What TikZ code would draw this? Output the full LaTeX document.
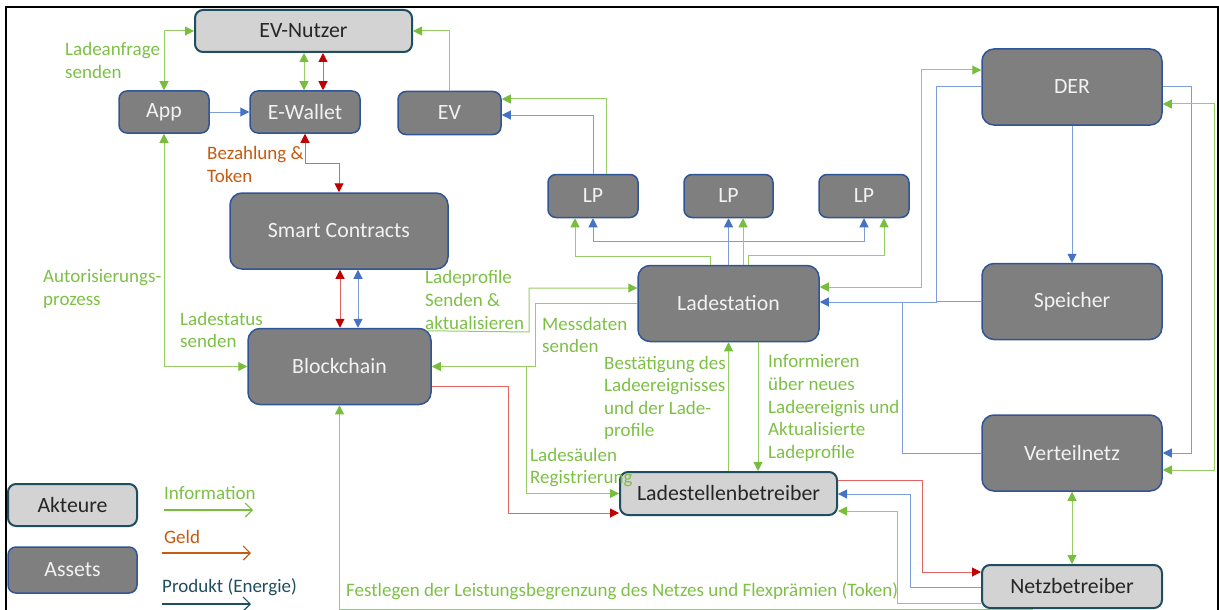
\documentclass[tikz,border=0pt]{standalone}
\usepackage{fontspec}
\setmainfont{Carlito}
\usetikzlibrary{arrows.meta,calc}

\definecolor{glin}{RGB}{150,205,100}
\definecolor{gtip}{RGB}{120,190,60}
\definecolor{gtext}{RGB}{125,192,70}
\definecolor{blin}{RGB}{125,158,218}
\definecolor{btip}{RGB}{68,114,196}
\definecolor{rlin}{RGB}{228,100,100}
\definecolor{rtip}{RGB}{192,0,0}
\definecolor{otext}{RGB}{197,90,17}
\definecolor{teal}{RGB}{31,78,96}
\definecolor{assetfill}{RGB}{127,127,127}
\definecolor{assetborder}{RGB}{47,85,151}
\definecolor{actorfill}{RGB}{211,211,211}
\definecolor{actorborder}{RGB}{30,78,96}

\newcommand{\boxfont}{\fontsize{21.8}{26}\selectfont}
\newcommand{\lblfont}{\fontsize{19}{22.6}\selectfont}

\begin{document}
\begin{tikzpicture}[x=1pt,y=-1pt,
  asset/.style={draw=assetborder, fill=assetfill, line width=1.5pt,
    rounded corners=10pt, text=white!95!black, font=\boxfont, inner sep=0pt},
  actor/.style={draw=actorborder, fill=actorfill, line width=2pt,
    rounded corners=8pt, text=black!85, font=\boxfont, inner sep=0pt},
  gi/.style={draw=glin, line width=1pt, >={Triangle[length=9pt,width=9pt,color=gtip]}},
  bi/.style={draw=blin, line width=1pt, >={Triangle[length=9pt,width=9pt,color=btip]}},
  ri/.style={draw=rlin, line width=1pt, >={Triangle[length=9pt,width=9pt,color=rtip]}},
  lbl/.style={font=\lblfont, text=gtext, align=left, anchor=west, inner sep=0pt},
  legarrow/.style={line width=1.2pt, -{Straight Barb[length=7pt,width=14pt]}}
]
\useasboundingbox (0,0) rectangle (1219,610);

% outer frame
\draw[line width=2.5pt] (6,614) -- (6,7) -- (1218,7) -- (1218,614);

% actors
\node[actor, minimum width=217pt, minimum height=42pt] (nutzer) at (303.5,31) {EV-Nutzer};
\node[actor, minimum width=217pt, minimum height=43pt] (lsb) at (728.5,493.5) {Ladestellenbetreiber};
\node[actor, minimum width=180pt, minimum height=43pt] (netz) at (1072,586.5) {Netzbetreiber};

% assets
\node[asset, rounded corners=8pt, minimum width=90pt, minimum height=42pt] (app) at (164,112) {App};
\node[asset, rounded corners=8pt, minimum width=110pt, minimum height=42pt] (wallet) at (305,112) {E-Wallet};
\node[asset, rounded corners=8pt, minimum width=103pt, minimum height=43pt] (ev) at (449.5,113) {EV};
\node[asset, rounded corners=8pt, minimum width=90pt, minimum height=43pt] (lp1) at (593,196) {LP};
\node[asset, rounded corners=8pt, minimum width=89pt, minimum height=43pt] (lp2) at (728.5,196) {LP};
\node[asset, rounded corners=8pt, minimum width=90pt, minimum height=43pt] (lp3) at (864,196) {LP};
\node[asset, rounded corners=12pt, minimum width=218pt, minimum height=76pt] (smart) at (339,231) {Smart Contracts};
\node[asset, rounded corners=12pt, minimum width=183pt, minimum height=76pt] (chain) at (339.5,366.5) {Blockchain};
\node[asset, rounded corners=12pt, minimum width=181pt, minimum height=76pt] (station) at (728.5,303.5) {Ladestation};
\node[asset, rounded corners=12pt, minimum width=180pt, minimum height=76pt] (der) at (1072,87) {DER};
\node[asset, rounded corners=12pt, minimum width=180pt, minimum height=76pt] (speicher) at (1072,301.5) {Speicher};
\node[asset, rounded corners=12pt, minimum width=180pt, minimum height=76pt] (verteil) at (1072,453) {Verteilnetz};

% legend boxes
\node[actor, minimum width=129pt, minimum height=42pt] (akteure) at (72.5,505) {Akteure};
\node[asset, rounded corners=8pt, minimum width=129pt, minimum height=46pt] (assets) at (72.5,570) {Assets};

% user side
\draw[gi,<->] (app.north) |- (nutzer.west);
\draw[bi,->] (app) -- (wallet);
\draw[gi,<->] (304,0 |- wallet.north) -- (304,0 |- nutzer.south);
\draw[ri,<->] (323,0 |- wallet.north) -- (323,0 |- nutzer.south);
\draw[ri,<->] (wallet.south) -- (wallet.south |- 0,163) -| (smart.north);
\draw[gi,->] (ev.north) |- (nutzer.east);
\draw[gi,->] (606,0 |- lp1.north) |- (ev.east |- 0,99);
\draw[bi,->] (lp1.north) |- (ev.east |- 0,115);

% charging station to charging points
\draw[gi,->] (710,0 |- station.north) -- (710,256) -| (575,0 |- lp1.south);
\draw[bi,->] (station.north) -- (lp2.south);
\draw[bi,->] (728.5,241) -| (lp1.south);
\draw[bi,->] (728.5,241) -| (lp3.south);
\draw[gi,->] (743,0 |- station.north) -- (743,0 |- lp2.south);
\draw[gi,->] (748,0 |- station.north) -- (748,255) -| (884,0 |- lp3.south);

% DER, storage, grid
\draw[gi,<->] (station.east |- 0,287) -- (921,287) |- (der.west |- 0,70);
\draw[bi,->] (der.west) -| (936,302) -- (station.east |- 0,302);
\draw[bi] (speicher.west) -- (936,0 |- speicher.west);
\draw[bi] (verteil.west) -| (902,302);
\draw[bi,->] (der) -- (speicher);
\draw[bi,->] (der.east) -- (1191,87) |- (verteil.east);
\draw[gi,<->] (der.east |- 0,104) -- (1214,104) |- (verteil.east |- 0,470);
\draw[gi,<->] (verteil.south) -- (netz.north);

% operator links
\draw[ri,->] (lsb.east |- 0,480) -- (922,480) |- (netz.west |- 0,572);
\draw[bi,->] (netz.west |- 0,587) -- (910,587) |- (lsb.east |- 0,494);
\draw[gi,->] (netz.west |- 0,603) -- (897,603) |- (lsb.east |- 0,511);
\draw[gi,->] (1033,0 |- netz.south) -- (chain.south |- netz.south) -- (chain.south);

% blockchain links
\draw[gi,<->] (app.south) |- (chain.west);
\draw[ri,<->] (340,0 |- smart.south) -- (340,0 |- chain.north);
\draw[bi,<->] (358,0 |- smart.south) -- (358,0 |- chain.north);
\draw[gi,->] ([xshift=-4pt,yshift=-3pt]chain.north east) -- (529,332) |- (station.west |- 0,288);
\draw[gi,->] (station.west |- 0,303) -- (535,303) |- (chain.east);
\draw[gi,->] (526,0 |- chain.east) |- (lsb.west);
\draw[ri,->] (chain.east |- 0,386) -- (508,386) |- (lsb.west |- 0,513);
\draw[gi,->] (lsb.north) -- (station.south);
\draw[gi,->] (758,0 |- station.south) -- (758,0 |- lsb.north);

% labels
\node[lbl] (l1) at (65,60.5) {Ladeanfrage\\senden};
\node[lbl, text=otext] (l2) at (207,164.5) {Bezahlung \&\\Token};
\node[lbl] (l3) at (43,289) {Autorisierungs-\\prozess};
\node[lbl] (l4) at (180,330) {Ladestatus\\senden};
\node[lbl] (l5) at (425,300) {Ladeprofile\\Senden \&\\aktualisieren};
\node[lbl] (l6) at (542,335) {Messdaten\\senden};
\node[lbl] (l7) at (604,398) {Bestätigung des\\Ladeereignisses\\und der Lade-\\profile};
\node[lbl] (l8) at (768,408) {Informieren\\über neues\\Ladeereignis und\\Aktualisierte\\Ladeprofile};
\node[lbl] (l9) at (530,467.5) {Ladesäulen\\Registrierung};
\node[lbl] (l10) at (346,591) {Festlegen der Leistungsbegrenzung des Netzes und Flexprämien (Token)};

% legend
\node[lbl] (inf) at (164,493) {Information};
\node[lbl, text=otext] (geld) at (164,537) {Geld};
\node[lbl, text=teal] (prod) at (162,587) {Produkt (Energie)};
\coordinate (ia) at (164,510); \coordinate (ib) at (253,510);
\coordinate (ga) at (162,553); \coordinate (gb) at (251,553);
\coordinate (pa) at (162,604); \coordinate (pb) at (251,604);
\draw[legarrow, draw=gtip] (ia) -- (ib);
\draw[legarrow, draw=otext] (ga) -- (gb);
\draw[legarrow, draw=teal] (pa) -- (pb);
\end{tikzpicture}
\end{document}
